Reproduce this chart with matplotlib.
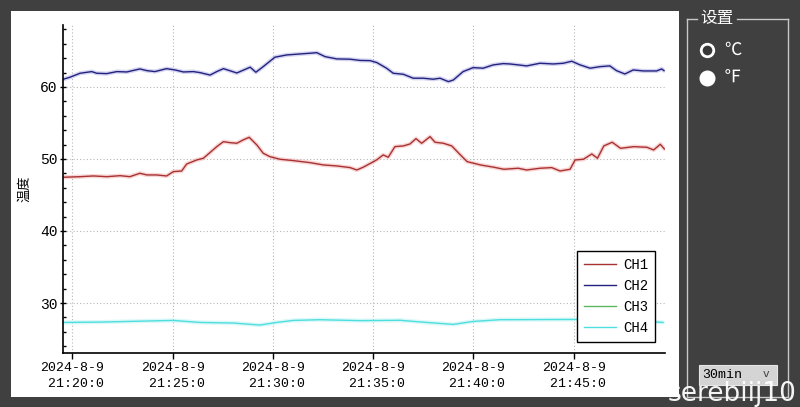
import matplotlib.pyplot as plt
from matplotlib.patches import Rectangle
from matplotlib.lines import Line2D

# seconds after 21:20:00 and temperatures
ch1_t = [-27, 23, 63, 103, 143, 172, 202, 223, 252, 282, 302, 327, 342, 372, 392,
         412, 432, 452, 472, 492, 511, 529, 552, 571, 591, 621, 661, 711, 751, 791,
         831, 851, 870, 888, 910, 930, 945, 965, 990, 1010, 1028, 1045, 1055, 1070,
         1085, 1110, 1135, 1161, 1181, 1221, 1261, 1291, 1334, 1359, 1399, 1434,
         1459, 1489, 1504, 1529, 1554, 1571, 1590, 1615, 1640, 1680, 1719, 1739,
         1759, 1771]
ch1_v = [47.46, 47.54, 47.64, 47.54, 47.68, 47.54, 48.01, 47.78, 47.78, 47.64, 48.24,
         48.33, 49.30, 49.86, 50.10, 50.90, 51.71, 52.40, 52.26, 52.18, 52.64, 53.01,
         51.94, 50.79, 50.32, 49.96, 49.77, 49.49, 49.17, 49.03, 48.80, 48.47, 48.85,
         49.30, 49.86, 50.56, 50.24, 51.71, 51.81, 52.08, 52.82, 52.18, 52.54, 53.10,
         52.32, 52.18, 51.81, 50.56, 49.63, 49.17, 48.85, 48.57, 48.71, 48.47, 48.71,
         48.80, 48.33, 48.57, 49.86, 49.96, 50.69, 50.10, 51.81, 52.32, 51.48, 51.71,
         51.62, 51.25, 52.04, 51.39]

ch2_t = [-27, -7, 23, 58, 73, 103, 133, 163, 202, 223, 247, 282, 307, 332, 362, 382,
         412, 432, 452, 492, 532, 549, 571, 606, 641, 681, 711, 731, 756, 791, 831,
         861, 891, 911, 940, 960, 990, 1020, 1050, 1080, 1100, 1125, 1140, 1169, 1199,
         1229, 1259, 1289, 1309, 1334, 1359, 1399, 1439, 1469, 1494, 1519, 1549, 1579,
         1608, 1628, 1653, 1678, 1708, 1748, 1763, 1770]
ch2_v = [61.07, 61.35, 61.90, 62.13, 61.90, 61.85, 62.13, 62.08, 62.50, 62.26, 62.13,
         62.54, 62.36, 62.08, 62.13, 61.99, 61.65, 62.13, 62.54, 61.94, 62.74, 62.04,
         62.82, 64.13, 64.44, 64.58, 64.68, 64.76, 64.21, 63.89, 63.85, 63.68, 63.65,
         63.38, 62.60, 61.90, 61.76, 61.21, 61.21, 61.07, 61.21, 60.74, 60.97, 62.13,
         62.68, 62.60, 63.06, 63.24, 63.19, 63.06, 62.92, 63.29, 63.19, 63.29, 63.57,
         63.06, 62.60, 62.82, 62.92, 62.26, 61.80, 62.36, 62.22, 62.22, 62.50, 62.26]

ch3_t = []
ch3_v = []

ch4_t = [-27, 83, 223, 301, 382, 481, 561, 611, 660, 741, 861, 980, 1060, 1140, 1199,
         1279, 1399, 1519, 1638, 1767]
ch4_v = [27.30, 27.35, 27.50, 27.58, 27.30, 27.22, 26.94, 27.30, 27.58, 27.68, 27.55,
         27.60, 27.30, 27.03, 27.44, 27.68, 27.70, 27.72, 27.72, 27.30]

tick_secs = [0, 300, 600, 900, 1200, 1500]
tick_labels = ["2024-8-9\n 21:20:0", "2024-8-9\n 21:25:0", "2024-8-9\n 21:30:0",
               "2024-8-9\n 21:35:0", "2024-8-9\n 21:40:0", "2024-8-9\n 21:45:0"]

W, H = 800, 407
cjk = ["Noto Sans CJK SC", "DejaVu Sans"]
fig = plt.figure(figsize=(W / 100, H / 100), dpi=100)
fig.patch.set_facecolor("#404040")


def fx(px):
    return px / W


def fy(py):
    return 1 - py / H


# white chart panel behind the axes
fig.patches.append(Rectangle((fx(11), fy(397)), fx(668), 386 / H,
                             transform=fig.transFigure, facecolor="white",
                             edgecolor="none", zorder=-10))

ax = fig.add_axes([fx(63), fy(352.7), fx(602), 327.7 / H])
ax.set_facecolor("white")

series = [
    (ch1_t, ch1_v, "CH1", "#a83232", "#f0a0a0"),
    (ch2_t, ch2_v, "CH2", "#23237f", "#a0a0e0"),
    (ch3_t, ch3_v, "CH3", "#5cb85c", "#b0e0b0"),
    (ch4_t, ch4_v, "CH4", "#4fdede", "#b0f0f0"),
]
handles = []
for t, v, name, col, glow in series:
    ax.plot(t, v, color=glow, lw=3.0, alpha=0.45, solid_capstyle="round")
    ax.plot(t, v, color=col, lw=1.0)
    handles.append(Line2D([], [], color=col, lw=1.0, label=name))

ax.set_xlim(-28, 1773)
ax.set_ylim(23.1, 68.6)
ax.set_xticks(tick_secs)
ax.set_xticklabels(tick_labels, family="Liberation Mono", fontsize=9.5,
                   linespacing=1.35)
ax.set_yticks([30, 40, 50, 60])
ax.set_yticks(range(24, 69, 2), minor=True)
ax.set_yticklabels(["30", "40", "50", "60"], family="Liberation Mono", fontsize=10.5)
ax.tick_params(axis="x", which="major", direction="out", length=4, width=1,
               color="black", pad=3)
ax.tick_params(axis="y", which="major", direction="inout", length=4, width=1,
               color="black", pad=2)
ax.tick_params(axis="y", which="minor", direction="in", length=2.5, width=1,
               color="black")
for s in ("top", "right"):
    ax.spines[s].set_visible(False)
for s in ("left", "bottom"):
    ax.spines[s].set_linewidth(1.2)
ax.grid(True, which="major", linestyle=(0, (1, 2)), color="#b8b8b8", lw=0.8)
ax.set_axisbelow(True)
ax.set_ylabel("温度", family=cjk, fontsize=9.5)
ax.yaxis.set_label_coords((31 - 63) / 602, 0.5)

leg = ax.legend(handles=handles, loc="lower right", bbox_to_anchor=(0.9834, 0.033),
                borderaxespad=0,
                prop={"family": "Liberation Mono", "size": 10}, fancybox=False,
                framealpha=1, edgecolor="black", handlelength=2.3,
                handletextpad=0.5, labelspacing=0.5, borderpad=0.5)
leg.get_frame().set_linewidth(1.0)

# settings group box on the right
box = "#c8c8c8"
for seg in [((687, 687), (19, 397)), ((788, 788), (19, 397)),
            ((687, 788), (397, 397)), ((687, 697), (19, 19)), ((737, 788), (19, 19))]:
    fig.add_artist(Line2D([fx(p) for p in seg[0]], [fy(p) for p in seg[1]],
                          color=box, lw=1.0, transform=fig.transFigure))
fig.text(fx(717), fy(18), "设置", color="white", fontsize=12, ha="center",
         va="center", family=cjk)

# radio buttons
fig.add_artist(Line2D([fx(706.7)], [fy(50)], marker="o", markersize=9,
                      markerfacecolor="#383838", markeredgecolor="white",
                      markeredgewidth=2.0, transform=fig.transFigure))
fig.add_artist(Line2D([fx(706.7)], [fy(78)], marker="o", markersize=10.5,
                      markerfacecolor="white", markeredgecolor="white",
                      transform=fig.transFigure))
fig.text(fx(724), fy(50), "℃", color="white", fontsize=12.5, va="center", family=cjk)
fig.text(fx(724), fy(78), "℉", color="white", fontsize=12.5, va="center", family=cjk)

# time range combo box
fig.patches.append(Rectangle((fx(699), fy(385)), fx(78), 20 / H,
                             transform=fig.transFigure, facecolor="#d4d4d4",
                             edgecolor="#e6e6e6", lw=0.8))
fig.text(fx(702), fy(375), "30min", color="black", fontsize=9.5, va="center",
         family="Liberation Mono")
fig.text(fx(766), fy(374), "v", color="#444444", fontsize=8, va="center",
         ha="center", family="DejaVu Sans")

# uploader watermark
fig.text(fx(668), fy(394), "serebiij10", color="white", fontsize=19, va="center",
         family="DejaVu Sans", alpha=0.95)

fig.savefig("out.png", dpi=100, facecolor=fig.get_facecolor())
